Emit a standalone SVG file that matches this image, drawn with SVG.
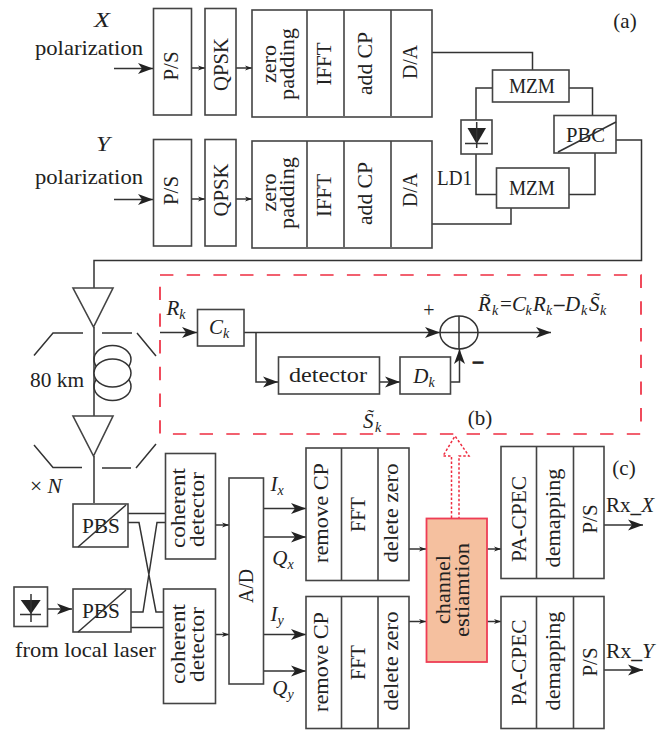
<svg xmlns="http://www.w3.org/2000/svg" width="657" height="730" viewBox="0 0 657 730">
<style>
text{font-family:"Liberation Serif","Times New Roman",serif;font-size:21px;fill:#222;text-anchor:middle}
.i{font-style:italic}
.s{font-size:14px;font-style:italic}
.b{fill:#fff;stroke:#444;stroke-width:1.6}
.d{fill:none;stroke:#444;stroke-width:1.6}
.l{fill:none;stroke:#333;stroke-width:1.5}
.c{fill:#fff;stroke:#333;stroke-width:1.5}
.big{marker-end:url(#big)}
.sm{marker-end:url(#sm)}
.r{fill:none;stroke:#ee2c40;stroke-width:1.7;stroke-dasharray:13.4 13.3}
.rd{fill:none;stroke:#ee2c40;stroke-width:1.5;stroke-dasharray:2.5 2}
</style>
<defs>
<marker id="big" markerUnits="userSpaceOnUse" markerWidth="16" markerHeight="12" refX="15" refY="6" orient="auto"><path d="M0,.5 L15,6 L0,11.5 L4,6 Z" fill="#222"/></marker>
<marker id="sm" markerUnits="userSpaceOnUse" markerWidth="8" markerHeight="6" refX="7" refY="3" orient="auto"><path d="M0,.5 L7,3 L0,5.500 L2,3 Z" fill="#222"/></marker>
</defs>
<g id="connectors">
<path class="l big" d="M114,68.500H153"/><path class="l sm" d="M191.500,68H205"/><path class="l sm" d="M236,68H252"/>
<path class="l big" d="M114,199.500H153"/><path class="l sm" d="M191.500,199H205"/><path class="l sm" d="M236,199H252"/>
<path class="l" d="M432,52.500H532.500V70M492.500,88H476V120M476,154V194.500H496M569,88H592.500V115.500M595,153V194.500H569M511,208V224H432M616,140H641.500V260.500H94V288M94,327V416M94,456V503"/>
<path class="l" d="M34,355.500L53,333H83M102,333H132M137,333L156,356M34,445L53,467.500H82M102,468H131M136,468L156,444"/>
<path class="l big" d="M160,332.500H197"/><path class="l big" d="M244,332.500H440"/>
<path class="l big" d="M256,332.500V382H278"/><path class="l big" d="M379.500,382H400"/>
<path class="l big" d="M450.500,382H459.500V349"/><path class="l big" d="M478,332.500H551"/>
<path class="l" d="M128,513.500H165.500M128,522.500H139L156,612H163.500M131,612H143L157,522.500H165.500M131,627.500H163.500"/>
<path class="l big" d="M47.500,609H72"/>
<path class="l sm" d="M215.500,525H229"/><path class="l sm" d="M215.500,634.500H229"/>
<path class="l big" d="M263.500,508.500H306"/><path class="l big" d="M263.500,537H306"/><path class="l big" d="M263.500,634.500H306"/><path class="l big" d="M263.500,671H306"/>
<path class="l sm" d="M409,549H426"/><path class="l sm" d="M409,621.500H426"/><path class="l sm" d="M487,549H501"/><path class="l sm" d="M487,621.500H501"/>
<path class="l big" d="M604,525H643"/><path class="l big" d="M604,670H643"/>
<path class="rd" d="M451.500,518V456H443L455,436L469,456H459V518"/>
</g>
<g id="label-x"><text class="i" x="102" y="27" textLength="16" lengthAdjust="spacingAndGlyphs">X</text><text x="89" y="55" textLength="108" lengthAdjust="spacingAndGlyphs">polarization</text></g>
<g id="label-y"><text class="i" x="103" y="150.500" textLength="14" lengthAdjust="spacingAndGlyphs">Y</text><text x="89" y="184" textLength="108" lengthAdjust="spacingAndGlyphs">polarization</text></g>
<g id="ps-x"><rect class="b" x="153.500" y="8.500" width="38" height="106.500"/><text transform="translate(177.500 66) rotate(-90)">P/S</text></g>
<g id="qpsk-x"><rect class="b" x="205" y="8.500" width="31" height="106.500"/><text transform="translate(228 64.500) rotate(-90)" textLength="53" lengthAdjust="spacingAndGlyphs">QPSK</text></g>
<g id="tx-x"><rect class="b" x="252" y="10" width="180" height="107"/><path class="d" d="M307,10V116M344,10V116M391,10V116"/>
<text transform="translate(275.500 64) rotate(-90)" textLength="38" lengthAdjust="spacingAndGlyphs">zero</text><text transform="translate(294 64) rotate(-90)" textLength="72" lengthAdjust="spacingAndGlyphs">padding</text>
<text transform="translate(331 64) rotate(-90)" textLength="43" lengthAdjust="spacingAndGlyphs">IFFT</text><text transform="translate(372 63.500) rotate(-90)" textLength="63" lengthAdjust="spacingAndGlyphs">add CP</text><text transform="translate(417 62) rotate(-90)" textLength="34" lengthAdjust="spacingAndGlyphs">D/A</text></g>
<g id="ps-y"><rect class="b" x="153.500" y="139.500" width="38" height="106.500"/><text transform="translate(177.500 190.500) rotate(-90)">P/S</text></g>
<g id="qpsk-y"><rect class="b" x="205" y="139.500" width="31" height="106.500"/><text transform="translate(228 190) rotate(-90)" textLength="53" lengthAdjust="spacingAndGlyphs">QPSK</text></g>
<g id="tx-y"><rect class="b" x="252" y="141" width="180" height="107"/><path class="d" d="M307,141V247M344,141V247M391,141V247"/>
<text transform="translate(275.500 192.500) rotate(-90)" textLength="38" lengthAdjust="spacingAndGlyphs">zero</text><text transform="translate(294 193) rotate(-90)" textLength="72" lengthAdjust="spacingAndGlyphs">padding</text>
<text transform="translate(331 195.500) rotate(-90)" textLength="43" lengthAdjust="spacingAndGlyphs">IFFT</text><text transform="translate(372 193.500) rotate(-90)" textLength="63" lengthAdjust="spacingAndGlyphs">add CP</text><text transform="translate(417 190) rotate(-90)" textLength="34" lengthAdjust="spacingAndGlyphs">D/A</text></g>
<g id="mzm1"><rect class="b" x="492.500" y="70" width="76.500" height="32"/><text x="532" y="92.500" textLength="46" lengthAdjust="spacingAndGlyphs">MZM</text></g>
<g id="mzm2"><rect class="b" x="496.500" y="168" width="72.500" height="40"/><text x="532" y="195" textLength="46" lengthAdjust="spacingAndGlyphs">MZM</text></g>
<g id="ld1"><rect class="b" x="461" y="120" width="31" height="34"/><path fill="#222" d="M467.500,128H486L476.700,144Z"/><path class="l" d="M476.700,122V148M465,143.500H488"/></g>
<text x="454.500" y="185" textLength="35" lengthAdjust="spacingAndGlyphs">LD1</text>
<g id="pbc"><rect class="b" x="554" y="115.500" width="62" height="37.500"/><text x="585.500" y="141.500" textLength="39" lengthAdjust="spacingAndGlyphs">PBC</text><path class="l" d="M558,152L616,122"/></g>
<text x="625" y="28">(a)</text>
<g id="amp1"><path class="b" d="M73,288H113L93.500,327Z"/></g>
<g id="fiber"><ellipse class="l" cx="112.500" cy="359.500" rx="18.500" ry="14"/><ellipse class="l" cx="112.500" cy="386.500" rx="18.500" ry="14"/><ellipse class="c" cx="112.500" cy="373" rx="18.500" ry="14"/></g>
<text x="57" y="386.500" textLength="54" lengthAdjust="spacingAndGlyphs">80 km</text>
<g id="amp2"><path class="b" d="M73,416H113L93.500,456Z"/></g>
<text x="46" y="492.500" textLength="32" lengthAdjust="spacingAndGlyphs">×<tspan class="i"> N</tspan></text>
<g id="dsp-box"><rect class="r" x="160" y="275" width="481" height="159"/></g>
<text class="i" x="176" y="315">R<tspan class="s" dy="4">k</tspan></text>
<g id="ck"><rect class="b" x="197.500" y="309.500" width="46.500" height="36.500"/><text class="i" x="219" y="334">C<tspan class="s" dy="4">k</tspan></text></g>
<g id="detector"><rect class="b" x="278.500" y="357" width="101" height="37"/><text x="328" y="381.500" textLength="78" lengthAdjust="spacingAndGlyphs">detector</text></g>
<g id="dk"><rect class="b" x="400" y="357" width="50.500" height="37"/><text class="i" x="424" y="382.500">D<tspan class="s" dy="4">k</tspan></text></g>
<g id="sum"><ellipse class="l" cx="459" cy="332.500" rx="19" ry="16.500"/><path class="l" d="M459,316V349M440,332.500H478"/></g>
<text x="429" y="316.500" style="font-size:20px">+</text>
<text x="478" y="368" style="font-size:20px;font-weight:bold;stroke:#222;stroke-width:.7">–</text>
<text class="i" style="text-anchor:start" y="311"><tspan x="478">R̃</tspan><tspan class="s" x="492" dy="4">k</tspan><tspan x="500" dy="-4" font-style="normal">=</tspan><tspan x="512">C</tspan><tspan class="s" x="525.500" dy="4">k</tspan><tspan x="533" dy="-4">R</tspan><tspan class="s" x="546" dy="4">k</tspan><tspan x="554" dy="-4" font-style="normal" font-weight="bold">–</tspan><tspan x="565">D</tspan><tspan class="s" x="581" dy="4">k</tspan><tspan x="589" dy="-4">S̃</tspan><tspan class="s" x="600" dy="4">k</tspan></text>
<text class="i" style="text-anchor:start" y="428"><tspan x="363">S̃</tspan><tspan class="s" x="375" dy="4">k</tspan></text>
<text x="480" y="425">(b)</text>
<g id="pbs1"><rect class="b" x="73" y="504" width="55" height="43"/><text x="101" y="533" textLength="38" lengthAdjust="spacingAndGlyphs">PBS</text><path class="l" d="M78,547L126,505"/></g>
<g id="pbs2"><rect class="b" x="73" y="589" width="58" height="43"/><text x="101" y="618" textLength="38" lengthAdjust="spacingAndGlyphs">PBS</text><path class="l" d="M78,632L126,590"/></g>
<g id="local-laser"><rect class="b" x="14" y="587" width="33.500" height="39.500"/><path fill="#222" d="M20.700,600H40.700L31,614Z"/><path class="l" d="M31,594V622M20,614.500H41"/></g>
<text x="85.500" y="657" textLength="141" lengthAdjust="spacingAndGlyphs">from local laser</text>
<g id="cd1"><rect class="b" x="165.500" y="453.500" width="50" height="105.500"/><text transform="translate(185 508) rotate(-90)" textLength="80" lengthAdjust="spacingAndGlyphs">coherent</text><text transform="translate(204 509.500) rotate(-90)" textLength="75" lengthAdjust="spacingAndGlyphs">detector</text></g>
<g id="cd2"><rect class="b" x="163.500" y="589" width="52" height="114.500"/><text transform="translate(185 644) rotate(-90)" textLength="80" lengthAdjust="spacingAndGlyphs">coherent</text><text transform="translate(204 644.500) rotate(-90)" textLength="75" lengthAdjust="spacingAndGlyphs">detector</text></g>
<g id="ad"><rect class="b" x="229" y="478" width="34.500" height="206"/><text transform="translate(253 586) rotate(-90)" textLength="34" lengthAdjust="spacingAndGlyphs">A/D</text></g>
<text class="i" x="277" y="490.500">I<tspan class="s" dy="4">x</tspan></text>
<text class="i" x="283" y="565">Q<tspan class="s" dy="4">x</tspan></text>
<text class="i" x="277" y="620.500">I<tspan class="s" dy="4">y</tspan></text>
<text class="i" x="283" y="695">Q<tspan class="s" dy="4">y</tspan></text>
<g id="rx-x"><rect class="b" x="306" y="448" width="103" height="132.500"/><path class="d" d="M341.500,448V580M378,448V580"/>
<text transform="translate(328 513) rotate(-90)" textLength="100" lengthAdjust="spacingAndGlyphs">remove CP</text><text transform="translate(365 514.500) rotate(-90)" textLength="35" lengthAdjust="spacingAndGlyphs">FFT</text><text transform="translate(398 513) rotate(-90)" textLength="99" lengthAdjust="spacingAndGlyphs">delete zero</text></g>
<g id="rx-y"><rect class="b" x="306" y="596.500" width="103" height="132"/><path class="d" d="M341.500,596V728M378,596V728"/>
<text transform="translate(328 662) rotate(-90)" textLength="100" lengthAdjust="spacingAndGlyphs">remove CP</text><text transform="translate(365 662.500) rotate(-90)" textLength="35" lengthAdjust="spacingAndGlyphs">FFT</text><text transform="translate(398 661) rotate(-90)" textLength="99" lengthAdjust="spacingAndGlyphs">delete zero</text></g>
<g id="channel"><rect x="426.500" y="518.500" width="60.500" height="143.500" fill="#f5c09f" stroke="#ee3d55" stroke-width="1.8"/><text transform="translate(450 589.500) rotate(-90)" textLength="69" lengthAdjust="spacingAndGlyphs">channel</text><text transform="translate(469 590) rotate(-90)" textLength="94" lengthAdjust="spacingAndGlyphs">estiamtion</text></g>
<g id="out-x"><rect class="b" x="501" y="446.500" width="103" height="132"/><path class="d" d="M536.500,446V578M573.500,446V578"/>
<text transform="translate(526 519) rotate(-90)" textLength="86" lengthAdjust="spacingAndGlyphs">PA-CPEC</text><text transform="translate(560 518) rotate(-90)" textLength="99" lengthAdjust="spacingAndGlyphs">demapping</text><text transform="translate(597 519) rotate(-90)">P/S</text></g>
<g id="out-y"><rect class="b" x="501" y="596.500" width="103" height="132"/><path class="d" d="M536.500,596V728M573.500,596V728"/>
<text transform="translate(526 662.500) rotate(-90)" textLength="86" lengthAdjust="spacingAndGlyphs">PA-CPEC</text><text transform="translate(560 661) rotate(-90)" textLength="99" lengthAdjust="spacingAndGlyphs">demapping</text><text transform="translate(597 662) rotate(-90)">P/S</text></g>
<text x="624" y="475">(c)</text>
<text x="630" y="511.500" textLength="48" lengthAdjust="spacingAndGlyphs">Rx<tspan font-weight="bold">_</tspan><tspan class="i">X</tspan></text>
<text x="630" y="658" textLength="48" lengthAdjust="spacingAndGlyphs">Rx<tspan font-weight="bold">_</tspan><tspan class="i">Y</tspan></text>
</svg>
